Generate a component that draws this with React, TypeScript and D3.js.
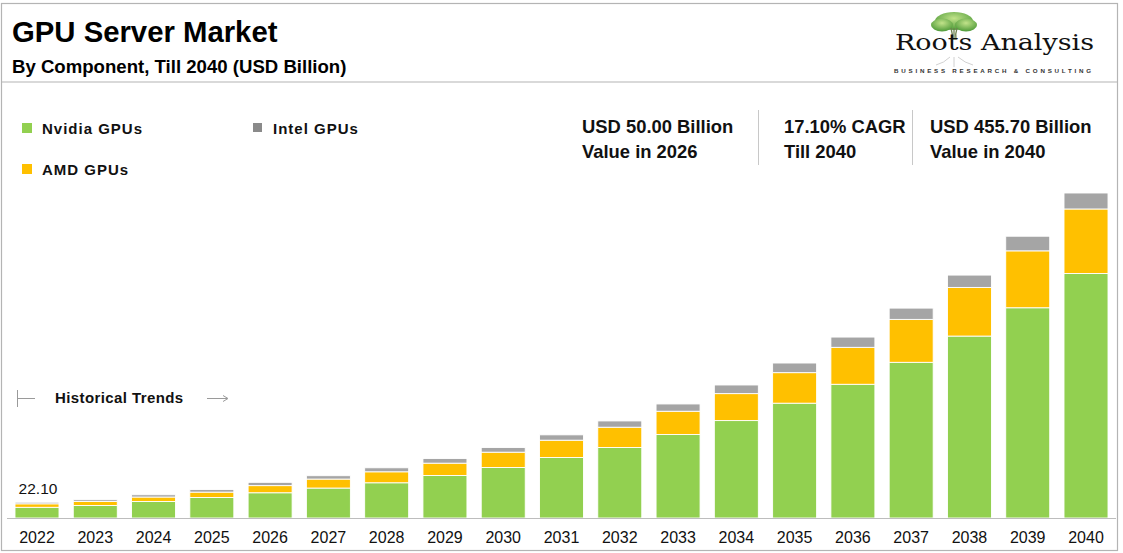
import { useMemo } from "react"
import * as d3 from "d3"

const YEARS = ["2022", "2023", "2024", "2025", "2026", "2027", "2028", "2029", "2030", "2031", "2032", "2033", "2034", "2035", "2036", "2037", "2038", "2039", "2040"]
const NVIDIA = [15.0, 17.6, 23.2, 28.8, 35.4, 42.0, 49.4, 59.6, 70.8, 84.8, 98.8, 117.0, 136.6, 161.0, 187.5, 218.3, 255.1, 294.8, 342.9]
const AMD = [4.9, 5.6, 6.2, 7.5, 10.0, 12.6, 15.4, 17.3, 21.5, 24.3, 28.5, 32.7, 37.8, 42.8, 51.8, 60.2, 68.2, 79.8, 90.4]
const INTEL = [2.2, 2.4, 3.2, 3.7, 4.6, 4.7, 5.6, 6.5, 6.5, 7.5, 8.8, 10.2, 12.1, 13.5, 14.4, 15.8, 17.3, 20.5, 22.4]

const KEYS = ["nvidia", "amd", "intel"] as const
const COLORS: Record<string, string> = { nvidia: "#92D050", amd: "#FFC000", intel: "#A5A5A5" }

const KPIS = [
  { line1: "USD 50.00 Billion", line2: "Value in 2026", x: 582 },
  { line1: "17.10% CAGR", line2: "Till 2040", x: 784 },
  { line1: "USD 455.70 Billion", line2: "Value in 2040", x: 930 },
]

const FONT = "'Liberation Sans', Arial, sans-serif"
const W = 1123
const H = 553

type Row = { year: string; nvidia: number; amd: number; intel: number }

export default function App() {
  const rows: Row[] = YEARS.map((year, i) => ({ year, nvidia: NVIDIA[i], amd: AMD[i], intel: INTEL[i] }))

  const x = d3.scaleBand<string>().domain(YEARS).range([8, 1115]).paddingInner(0.245).paddingOuter(0.12)
  const y = d3.scaleLinear().domain([0, 455.7]).range([518, 193])

  const series = useMemo(() => d3.stack<Row>().keys(KEYS as unknown as string[])(rows), [])

  return (
    <svg width={W} height={H} style={{ position: "absolute", left: 0, top: 0, background: "#fff" }} fontFamily={FONT}>
      {/* frame */}
      <rect x={1.5} y={3.5} width={1116} height={547} fill="none" stroke="#b4b4b4" strokeWidth={1.2} />
      <line x1={1.5} x2={1117.5} y1={82} y2={82} stroke="#b4b4b4" strokeWidth={1.2} />

      {/* header */}
      <text x={12} y={42} fontSize={29.3} fontWeight="bold" fill="#000">GPU Server Market</text>
      <text x={12} y={73} fontSize={18.6} fontWeight="bold" fill="#000">By Component, Till 2040 (USD Billion)</text>

      {/* logo */}
      <g>
        <defs>
          <radialGradient id="canopy" cx="50%" cy="35%" r="65%">
            <stop offset="0%" stopColor="#c2e38a" />
            <stop offset="100%" stopColor="#4e9a38" />
          </radialGradient>
        </defs>
        <ellipse cx={954} cy={21} rx={19} ry={9} fill="url(#canopy)" />
        <ellipse cx={942} cy={25} rx={11} ry={6.5} fill="url(#canopy)" />
        <ellipse cx={966} cy={25} rx={11} ry={6.5} fill="url(#canopy)" />
        <path d="M951 28 Q953 34 952 40 M957 28 Q955 34 956 40 M954 28 L954 40" stroke="#6f8250" strokeWidth={1.3} fill="none" />
        <path d="M950 57 Q944 63 936 65 M954 57 L954 67 M958 57 Q965 63 973 65" stroke="#c4c4c4" strokeWidth={0.8} fill="none" />
        <text x={895} y={50} fontSize={23} fontFamily="'DejaVu Serif', serif" fill="#111" textLength={199} lengthAdjust="spacingAndGlyphs">Roots Analysis</text>
        <text x={894} y={73} fontSize={6.2} fontWeight="bold" fill="#333" textLength={197} lengthAdjust="spacing">BUSINESS RESEARCH &amp; CONSULTING</text>
      </g>

      {/* legend */}
      <g fontSize={15} fontWeight="bold" fill="#111" letterSpacing={1}>
        <rect x={22} y={123} width={10} height={10} fill={COLORS.nvidia} />
        <text x={42} y={133.5}>Nvidia GPUs</text>
        <rect x={253} y={123} width={9} height={9} fill="#8a8a8a" />
        <text x={273} y={134}>Intel GPUs</text>
        <rect x={22} y={164} width={10} height={10} fill={COLORS.amd} />
        <text x={42} y={174.5}>AMD GPUs</text>
      </g>

      {/* KPIs */}
      <g fontSize={18.4} fontWeight="bold" fill="#111">
        {KPIS.map((k) => (
          <g key={k.line1}>
            <text x={k.x} y={133}>{k.line1}</text>
            <text x={k.x} y={158}>{k.line2}</text>
          </g>
        ))}
        <line x1={758.5} x2={758.5} y1={110} y2={165} stroke="#c8c8c8" />
        <line x1={912.5} x2={912.5} y1={110} y2={165} stroke="#c8c8c8" />
      </g>

      {/* historical trends */}
      <g stroke="#9a9a9a" strokeWidth={1}>
        <line x1={17.5} x2={17.5} y1={390} y2={407} />
        <line x1={17.5} x2={35} y1={398.5} y2={398.5} />
        <line x1={207} x2={227} y1={398.5} y2={398.5} />
        <path d="M223 395.5 L228 398.5 L223 401.5" fill="none" />
      </g>
      <text x={55} y={403} fontSize={15} fontWeight="bold" fill="#111" letterSpacing={0.4}>Historical Trends</text>

      {/* bars */}
      {series.map((s) => (
        <g key={s.key} fill={COLORS[s.key]}>
          {s.map((d) => (
            <rect
              key={d.data.year}
              x={x(d.data.year)}
              y={y(d[1])}
              width={x.bandwidth()}
              height={y(d[0]) - y(d[1])}
              stroke="#fff"
              strokeWidth={0.9}
            />
          ))}
        </g>
      ))}

      {/* first value label */}
      <text x={(x(YEARS[0]) ?? 0) + x.bandwidth() / 2 + 1} y={494} textAnchor="middle" fontSize={15.5} fill="#111">
        {d3.format(".2f")(NVIDIA[0] + AMD[0] + INTEL[0])}
      </text>

      {/* x axis */}
      <line x1={7} x2={1116} y1={518.5} y2={518.5} stroke="#bdbdbd" strokeWidth={1} />
      {YEARS.map((yr) => (
        <text key={yr} x={(x(yr) ?? 0) + x.bandwidth() / 2} y={543} textAnchor="middle" fontSize={16} fill="#111">
          {yr}
        </text>
      ))}
    </svg>
  )
}
